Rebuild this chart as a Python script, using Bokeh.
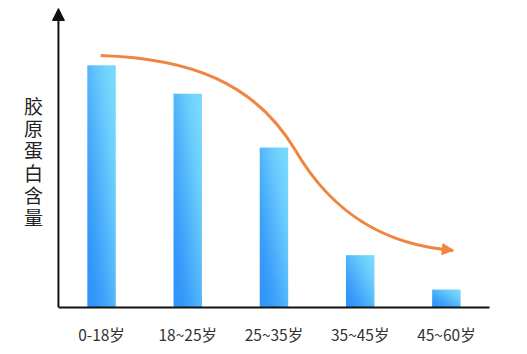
import numpy as np
from bokeh.plotting import figure
from bokeh.models import Range1d, FixedTicker, Label, Arrow, NormalHead
from bokeh.embed import file_html
from bokeh.resources import INLINE

# ---- data ----
categories = ["0-18岁", "18~25岁", "25~35岁", "35~45岁", "45~60岁"]
collagen = [81, 71.5, 53.5, 17.5, 6]
y_title = "胶原蛋白含量"

# decorative trend curve: two cubic bezier segments (data coordinates)
trend_x0 = [0.49, 2.75]
trend_y0 = [84.3, 52.5]
trend_cx0 = [1.53, 3.21]
trend_cy0 = [83.3, 29.8]
trend_cx1 = [2.28, 3.85]
trend_cy1 = [75.3, 20.7]
trend_x1 = [2.75, 4.58]
trend_y1 = [52.5, 19.1]

ORANGE = "#EF8540"
DARK = np.array([36, 136, 250], dtype=float)
LIGHT = np.array([120, 218, 253], dtype=float)

n = len(categories)
positions = np.arange(n) + 0.5
bar_w = 0.33
left_pad = 0.672  # room for the y title inside the frame

p = figure(width=527, height=354, output_backend="svg", toolbar_location=None,
           x_range=Range1d(-left_pad, n), y_range=Range1d(0, 100),
           min_border_left=0, min_border_right=38, min_border_top=8,
           min_border_bottom=47)
p.outline_line_color = None
p.grid.visible = False
p.background_fill_color = "white"
p.border_fill_color = "white"
p.yaxis.visible = False

xa = p.xaxis[0]
xa.bounds = (0, n)
xa.ticker = FixedTicker(ticks=list(positions))
xa.major_label_overrides = {float(x): c for x, c in zip(positions, categories)}
xa.major_tick_line_color = None
xa.minor_tick_line_color = None
xa.axis_line_color = "#111111"
xa.axis_line_width = 2
xa.major_label_standoff = 9
xa.major_label_text_font = "Noto Sans CJK SC"
xa.major_label_text_font_size = "15.5px"
xa.major_label_text_color = "#333333"


def gradient_image(h_px=160, w_px=28):
    yy, xx = np.mgrid[0:h_px, 0:w_px]
    xf = xx / (w_px - 1)
    yf = yy / (h_px - 1)
    s = np.clip((xf + yf) / 2, 0, 1)
    t = s * s * (3 - 2 * s)
    t = np.clip(0.15 + 0.85 * t, 0, 1)
    rgb = DARK[None, None, :] * (1 - t[..., None]) + LIGHT[None, None, :] * t[..., None]
    img = np.empty((h_px, w_px), dtype=np.uint32)
    view = img.view(dtype=np.uint8).reshape((h_px, w_px, 4))
    view[..., :3] = rgb.astype(np.uint8)
    view[..., 3] = 255
    return img


images = [gradient_image() for _ in collagen]
p.image_rgba(image=images, x=list(positions - bar_w / 2), y=[0] * n,
             dw=[bar_w] * n, dh=collagen)

# trend curve
p.bezier(x0=trend_x0, y0=trend_y0, x1=trend_x1, y1=trend_y1,
         cx0=trend_cx0, cy0=trend_cy0, cx1=trend_cx1, cy1=trend_cy1,
         line_color=ORANGE, line_width=3)
p.add_layout(Arrow(end=NormalHead(size=11, fill_color=ORANGE, line_color=ORANGE, line_width=1),
                   x_start=trend_x1[-1] - 0.12, y_start=trend_y1[-1] + 0.4,
                   x_end=trend_x1[-1], y_end=trend_y1[-1],
                   line_color=ORANGE, line_width=3))

# y axis as arrow
p.add_layout(Arrow(end=NormalHead(size=12, fill_color="#111111", line_color="#111111", line_width=1),
                   x_start=0, y_start=0, x_end=0, y_end=100,
                   line_color="#111111", line_width=2))

p.add_layout(Label(x=-0.29, y=49, text="\n".join(y_title), text_align="center",
                   text_baseline="middle", text_font_size="19px", text_line_height=0.82,
                   text_font="Noto Sans CJK SC", text_color="#222222"))

open("out.html", "w").write(file_html(p, INLINE))
